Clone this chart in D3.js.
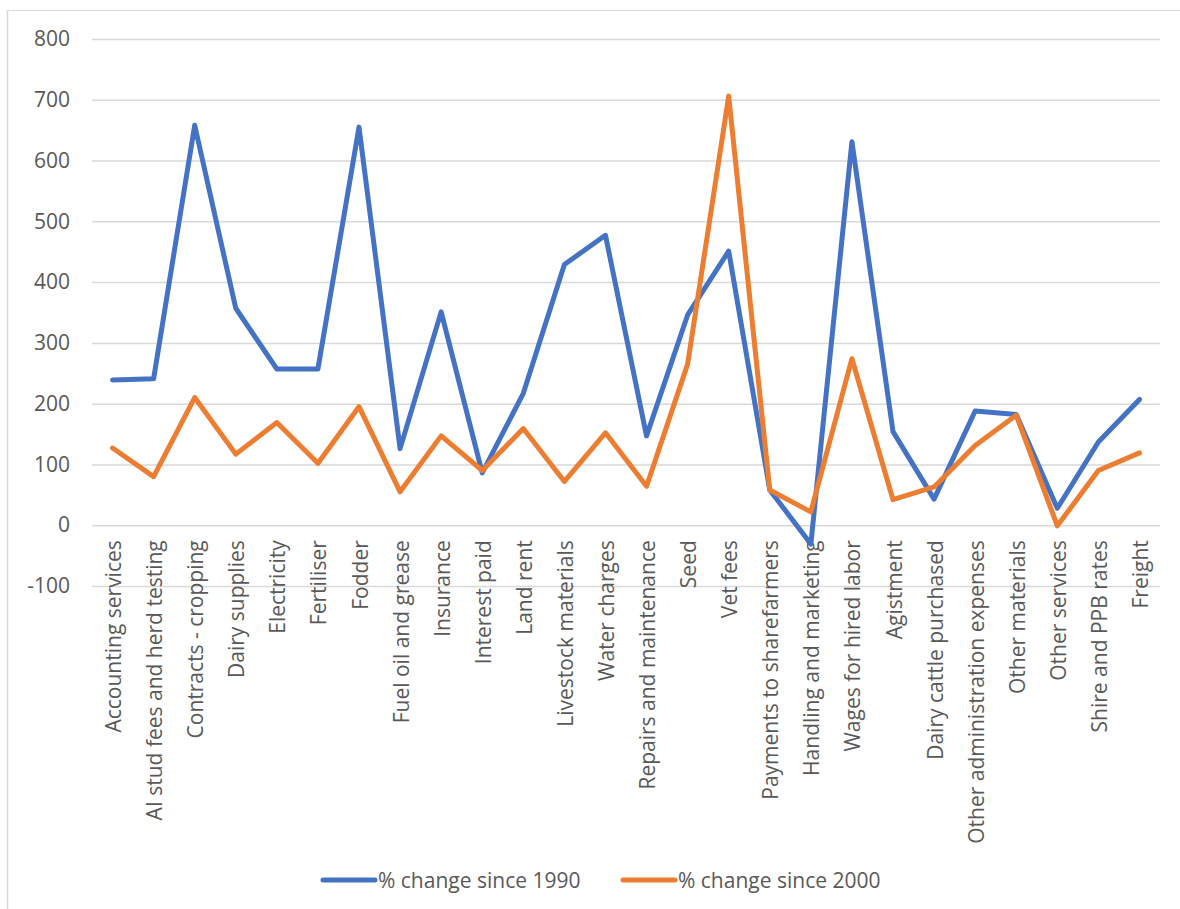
<!DOCTYPE html>
<html>
<head>
<meta charset="utf-8">
<script src="https://cdn.jsdelivr.net/npm/d3@7"></script>
<style>
  html, body { margin: 0; padding: 0; background: #fff; }
  text { font-family: "Open Sans", "Noto Sans", sans-serif; fill: #595959; }
</style>
</head>
<body>
<svg id="chart" width="1180" height="909"></svg>
<script>
// Farm cost items
const categories = [
  "Accounting services", "AI stud fees and herd testing", "Contracts - cropping",
  "Dairy supplies", "Electricity", "Fertiliser", "Fodder", "Fuel oil and grease",
  "Insurance", "Interest paid", "Land rent", "Livestock materials", "Water charges",
  "Repairs and maintenance", "Seed", "Vet fees", "Payments to sharefarmers",
  "Handling and marketing", "Wages for hired labor", "Agistment",
  "Dairy cattle purchased", "Other administration expenses", "Other materials",
  "Other services", "Shire and PPB rates", "Freight"
];

// % change since 1990
const since1990 = [
  239, 241, 658, 357, 257, 257, 655, 126,
  351, 86, 217, 429, 477,
  147, 346, 451, 58,
  -31, 631, 154,
  43, 188, 182,
  28, 137, 207
];

// % change since 2000
const since2000 = [
  127, 80, 210, 117, 169, 102, 195, 55,
  147, 90, 159, 72, 152,
  64, 265, 706, 58,
  22, 274, 42,
  63, 131, 181,
  -1, 90, 119
];

const yTicks = [-100, 0, 100, 200, 300, 400, 500, 600, 700, 800];

const seriesNames = ["% change since 1990", "% change since 2000"];
const seriesColors = ["#4472C4", "#ED7D31"];

const svg = d3.select("#chart");
const W = 1180, H = 909;
const plot = { left: 92, right: 1160, top: 39, bottom: 586 };

// Outer chart frame (top and left edges)
svg.append("line").attr("x1", 8).attr("x2", W).attr("y1", 10.5).attr("y2", 10.5)
  .attr("stroke", "#d9d9d9").attr("stroke-width", 1.2);
svg.append("line").attr("x1", 7.5).attr("x2", 7.5).attr("y1", 10).attr("y2", H)
  .attr("stroke", "#d9d9d9").attr("stroke-width", 1.5);

const x = d3.scalePoint().domain(categories)
  .range([plot.left, plot.right]).padding(0.5);
const y = d3.scaleLinear().domain([-100, 800]).range([plot.bottom, plot.top]);

// Horizontal gridlines with value labels (plain hyphen for negatives)
const yAxis = d3.axisLeft(y).tickValues(yTicks).tickSize(-(plot.right - plot.left))
  .tickFormat(d => String(d)).tickPadding(22);
const gy = svg.append("g").attr("transform", `translate(${plot.left},0)`).call(yAxis);
gy.select(".domain").remove();
gy.selectAll(".tick line").attr("stroke", "#d9d9d9").attr("stroke-width", 1.5);
gy.selectAll(".tick text").attr("font-size", 21)
  .attr("font-family", "'Open Sans', sans-serif").attr("fill", "#595959");

// Category labels, rotated
const xAxis = d3.axisBottom(x).tickSize(0).tickPadding(0);
const gx = svg.append("g").attr("transform", `translate(0,${y(0)})`).call(xAxis);
gx.select(".domain").remove();
gx.selectAll(".tick text")
  .attr("font-size", 21)
  .attr("font-family", "'Open Sans', sans-serif")
  .attr("fill", "#595959")
  .attr("text-anchor", "end")
  .attr("dy", null)
  .attr("dominant-baseline", "central")
  .attr("transform", "translate(0,15) rotate(-90)")
  .attr("x", 0).attr("y", 0);

// Series lines
const line = d3.line()
  .x((d, i) => x(categories[i]))
  .y(d => y(d));

[since1990, since2000].forEach((vals, k) => {
  svg.append("path")
    .datum(vals)
    .attr("d", line)
    .attr("fill", "none")
    .attr("stroke", seriesColors[k])
    .attr("stroke-width", 5)
    .attr("stroke-linejoin", "round")
    .attr("stroke-linecap", "round");
});

// Legend
const legendItems = [
  { name: seriesNames[0], color: seriesColors[0], x0: 323 },
  { name: seriesNames[1], color: seriesColors[1], x0: 623 }
];
const ly = 880;
legendItems.forEach(it => {
  svg.append("line").attr("x1", it.x0).attr("x2", it.x0 + 52)
    .attr("y1", ly).attr("y2", ly)
    .attr("stroke", it.color).attr("stroke-width", 5).attr("stroke-linecap", "round");
  svg.append("text").attr("x", it.x0 + 55).attr("y", ly)
    .attr("dominant-baseline", "central")
    .attr("font-size", 21).text(it.name);
});
</script>
</body>
</html>
